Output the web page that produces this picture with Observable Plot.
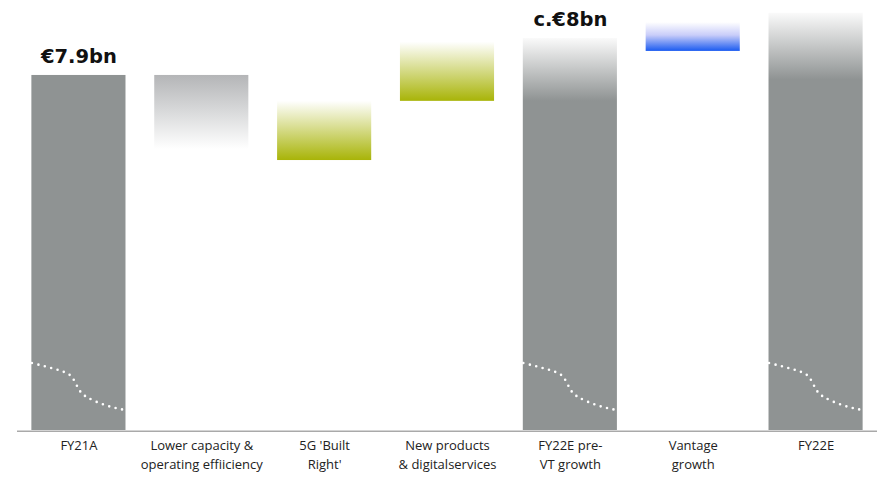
<!DOCTYPE html>
<html>
<head>
<meta charset="utf-8">
<script src="https://cdn.jsdelivr.net/npm/d3@7"></script>
<script src="https://cdn.jsdelivr.net/npm/@observablehq/plot@0.6"></script>
<style>
  html, body { margin: 0; padding: 0; background: #fff; }
  #chart svg { display: block; }
</style>
</head>
<body>
<div id="chart"></div>
<script>
// EBITDA bridge, €bn (broken axis: bars start at the cut line)
const categories = [
  "FY21A",
  "Lower capacity &\noperating effiiciency",
  "5G 'Built\nRight'",
  "New products\n& digitalservices",
  "FY22E pre-\nVT growth",
  "Vantage\ngrowth",
  "FY22E"
];
const barLow  = [6.94, 7.70, 7.67, 7.83, 6.94, 7.965, 6.94];
const barHigh = [7.90, 7.90, 7.83, 7.99, 8.00, 8.043, 8.068];
const barType = ["actual", "cost", "growth", "growth", "estimate", "vantage", "estimate"];
const valueLabels = [
  { index: 0, text: "€7.9bn" },
  { index: 4, text: "c.€8bn" }
];
// shape of the axis-break squiggle across a total bar (t = 0..1 across the bar)
const breakProfile = [
  { t: 0.00, y: 7.1225 },
  { t: 0.30, y: 7.102 },
  { t: 0.43, y: 7.083 },
  { t: 0.50, y: 7.051 },
  { t: 0.60, y: 7.028 },
  { t: 0.80, y: 7.007 },
  { t: 1.00, y: 6.995 }
];

const axisFloor = 6.94;
const half = 0.383;

const fillFor = {
  actual: "#8f9393",
  cost: "url(#fade-cost)",
  growth: "url(#fade-growth)",
  vantage: "url(#fade-vantage)",
  estimate: "url(#fade-estimate)"
};

const bars = categories.map((c, i) => ({
  i, label: c, low: barLow[i], high: barHigh[i], type: barType[i]
}));

const breakRows = bars
  .filter(d => d.type === "actual" || d.type === "estimate")
  .flatMap(d => breakProfile.map(p => ({ bar: d.i, x: d.i - half + p.t * 2 * half, y: p.y })));

const chart = Plot.plot({
  width: 879,
  height: 477,
  marginLeft: 17,
  marginRight: 2,
  marginTop: 1,
  marginBottom: 47,
  style: { fontFamily: "'Open Sans', sans-serif", background: "#fff" },
  x: { domain: [-0.5, 6.5], axis: null },
  y: { domain: [6.94, 8.10], axis: null },
  color: { type: "identity" },
  marks: [
    Plot.rect(bars, {
      x1: d => d.i - half,
      x2: d => d.i + half,
      y1: "low",
      y2: "high",
      fill: d => fillFor[d.type]
    }),
    Plot.line(breakRows, {
      x: "x", y: "y", z: "bar",
      stroke: "#fff",
      strokeWidth: 2.6,
      strokeDasharray: "0 6.6",
      strokeLinecap: "round",
      curve: "natural"
    }),
    Plot.ruleY([axisFloor], { stroke: "#a9a9a9", strokeWidth: 1.6, dy: 0.8 }),
    Plot.text(bars, {
      x: "i",
      y: () => axisFloor,
      text: "label",
      lineAnchor: "top",
      lineHeight: 1.4,
      dy: 7,
      fontSize: 13,
      fill: "#222"
    }),
    Plot.text(valueLabels, {
      x: "index",
      y: d => barHigh[d.index],
      text: "text",
      lineAnchor: "bottom",
      dy: -12,
      fontSize: 19.5,
      fontWeight: "bold",
      fontFamily: "'DejaVu Sans', sans-serif",
      fill: "#111"
    })
  ]
});

// vertical gradient fills used by the bars
const defs = d3.select(chart).insert("defs", ":first-child");
function gradient(id, stops) {
  const g = defs.append("linearGradient")
    .attr("id", id).attr("x1", 0).attr("y1", 0).attr("x2", 0).attr("y2", 1);
  stops.forEach(([o, c]) => g.append("stop").attr("offset", o).attr("stop-color", c));
}
gradient("fade-cost", [[0, "#b4b5b7"], [0.5, "#d9dadb"], [1, "#ffffff"]]);
gradient("fade-growth", [[0, "#ffffff"], [1, "#a8b408"]]);
gradient("fade-vantage", [[0, "#ffffff"], [0.45, "#c9cdf9"], [1, "#1b5bf0"]]);
gradient("fade-estimate", [[0, "#fafafa"], [0.16, "#8f9393"], [1, "#8f9393"]]);

document.getElementById("chart").appendChild(chart);
</script>
</body>
</html>
